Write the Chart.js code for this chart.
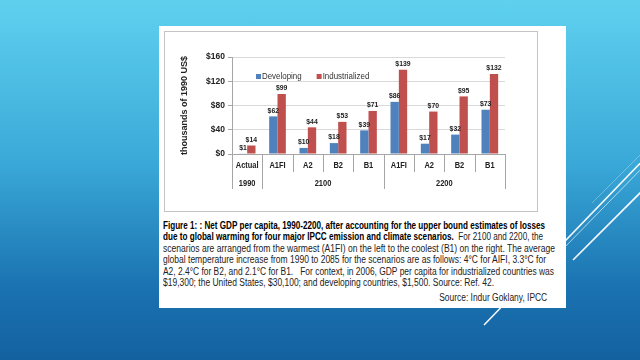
<!DOCTYPE html>
<html>
<head>
<meta charset="utf-8">
<script src="https://cdn.jsdelivr.net/npm/chart.js@4/dist/chart.umd.min.js"></script>
<style>
  html, body { margin:0; padding:0; width:640px; height:360px; overflow:hidden; }
  body {
    position:relative;
    background: linear-gradient(to bottom, #5fd1ef 0%, #3aa9d8 45%, #1a72b0 80%, #1461a0 100%);
    font-family: "Liberation Sans", sans-serif;
  }
  #deco { position:absolute; left:0; top:0; }
  #card { position:absolute; left:159px; top:26px; width:407px; height:282px; background:#fff; }
  #chartBox { position:absolute; left:164px; top:31px; width:372px; height:179px; border:1px solid #c4c4c4; }
  #chartBox canvas { display:block; }
  #caption {
    position:absolute; left:163px; top:220px;
    font-size:10px; line-height:11.4px; color:#222;
  }
  #caption div { white-space:nowrap; transform-origin:0 50%; width:max-content; }
  #caption b { color:#000; }
  #source { position:absolute; left:360px; top:292px; width:187px; text-align:right; font-size:10px; color:#222; }
  #source span { display:inline-block; white-space:nowrap; transform-origin:100% 50%; }
</style>
</head>
<body>
<svg id="deco" width="640" height="360">
  <line x1="652" y1="151" x2="484" y2="325" stroke="#fff" stroke-width="1.6" opacity="0.95"/>
  <line x1="650" y1="160" x2="560" y2="252" stroke="#fff" stroke-width="0.8" opacity="0.8"/>
  <line x1="648" y1="185" x2="573" y2="260" stroke="#fff" stroke-width="1.6" opacity="0.95"/>
  <line x1="650" y1="145" x2="592" y2="203" stroke="#fff" stroke-width="0.6" opacity="0.5"/>
</svg>
<div id="card"></div>
<div id="chartBox"><canvas id="gdp" width="372" height="179"></canvas></div>
<div id="caption">
  <div data-w="382"><b>Figure 1: : Net GDP per capita, 1990-2200, after accounting for the upper bound estimates of losses</b></div>
  <div data-w="380"><b>due to global warming for four major IPCC emission and climate scenarios.</b>&nbsp; For 2100 and 2200, the</div>
  <div data-w="392">scenarios are arranged from the warmest (A1FI) on the left to the coolest (B1) on the right. The average</div>
  <div data-w="383">global temperature increase from 1990 to 2085 for the scenarios are as follows: 4°C for AIFI, 3.3°C for</div>
  <div data-w="391">A2, 2.4°C for B2, and 2.1°C for B1.&nbsp;&nbsp; For context, in 2006, GDP per capita for industrialized countries was</div>
  <div data-w="331">$19,300; the United States, $30,100; and developing countries, $1,500. Source: Ref. 42.</div>
</div>
<div id="source"><span data-w="108">Source: Indur Goklany, IPCC</span></div>

<script>
// scenario labels, with the year group each one belongs to
const categories = ['Actual', 'A1FI', 'A2', 'B2', 'B1', 'A1FI', 'A2', 'B2', 'B1'];
const groups = ['1990', '2100', '2200'];
const groupSizes = [1, 4, 4];

// thousands of 1990 US$
const developing = [1, 62, 10, 18, 39, 86, 17, 32, 73];
const industrialized = [14, 99, 44, 53, 71, 139, 70, 95, 132];

const yMax = 160;
const yStep = 20;

(function() {
    'use strict';

    const FONT = "'Liberation Sans', sans-serif";
    const BLUE = '#4f81bd';
    const RED = '#c0504d';
    // the original used a condensed face (Calibri), squeeze canvas text to match
    const SQUEEZE = 0.88;

    function narrowText(ctx, text, x, y) {
        ctx.save();
        ctx.translate(x, y);
        ctx.scale(SQUEEZE, 1);
        ctx.fillText(text, 0, 0);
        ctx.restore();
    }

    // caption lines are fitted to the widths of the original layout
    document.querySelectorAll('[data-w]').forEach(el => {
        const w = el.getBoundingClientRect().width;
        el.style.transform = 'scaleX(' + (parseFloat(el.dataset.w) / w) + ')';
    });

    // value labels above each bar
    const barLabels = {
        id: 'barLabels',
        afterDatasetsDraw(chart) {
            const ctx = chart.ctx;
            ctx.save();
            ctx.font = 'bold 7.8px ' + FONT;
            ctx.fillStyle = '#222';
            ctx.textAlign = 'center';
            ctx.textBaseline = 'bottom';
            chart.data.datasets.forEach((ds, di) => {
                chart.getDatasetMeta(di).data.forEach((bar, i) => {
                    narrowText(ctx, '$' + ds.data[i], bar.x, bar.y - 2);
                });
            });
            ctx.restore();
        }
    };

    // excel style two level category axis: separators and year groups
    const groupAxis = {
        id: 'groupAxis',
        afterDraw(chart) {
            const ctx = chart.ctx;
            const x = chart.scales.x;
            const bottom = chart.chartArea.bottom;
            const edge = i => x.getPixelForValue(i - 0.5);
            const starts = [0];
            groupSizes.forEach(n => starts.push(starts[starts.length - 1] + n));

            ctx.save();
            ctx.strokeStyle = '#a6a6a6';
            ctx.lineWidth = 1;
            for (let i = 0; i <= categories.length; i++) {
                const px = Math.round(edge(i)) + 0.5;
                const len = starts.includes(i) ? 35 : 18;
                ctx.beginPath();
                ctx.moveTo(px, bottom);
                ctx.lineTo(px, bottom + len);
                ctx.stroke();
            }

            ctx.fillStyle = '#222';
            ctx.textBaseline = 'middle';
            ctx.textAlign = 'center';

            ctx.font = 'bold 8.5px ' + FONT;
            categories.forEach((c, i) => {
                narrowText(ctx, c, x.getPixelForValue(i), bottom + 12);
            });
            groups.forEach((g, gi) => {
                const mid = (edge(starts[gi]) + edge(starts[gi + 1])) / 2;
                narrowText(ctx, g, mid, bottom + 30);
            });

            // legend sits inside the plot, top left
            let lx = x.left + 24;
            const ly = chart.chartArea.top + 20;
            ctx.textAlign = 'left';
            ctx.font = '9px ' + FONT;
            chart.data.datasets.forEach(ds => {
                ctx.fillStyle = ds.backgroundColor;
                ctx.fillRect(lx, ly - 3, 5, 5);
                ctx.fillStyle = '#333';
                narrowText(ctx, ds.label, lx + 6, ly);
                lx += 6 + ctx.measureText(ds.label).width * SQUEEZE + 15;
            });
            ctx.restore();
        }
    };

    new Chart(document.getElementById('gdp'), {
        type: 'bar',
        data: {
            labels: categories,
            datasets: [
                { label: 'Developing', data: developing, backgroundColor: BLUE },
                { label: 'Industrialized', data: industrialized, backgroundColor: RED }
            ]
        },
        options: {
            responsive: false,
            animation: false,
            events: [],
            layout: { padding: { top: 25, right: 32, bottom: 17, left: 0 } },
            datasets: { bar: { categoryPercentage: 0.55, barPercentage: 1 } },
            scales: {
                x: {
                    grid: { display: false },
                    border: { display: true, color: '#a6a6a6' },
                    // labels are drawn by groupAxis so they can be condensed
                    ticks: { display: false, autoSkip: false },
                    afterFit(scale) { scale.height = 40; }
                },
                y: {
                    min: 0,
                    max: yMax,
                    grid: { color: '#d9d9d9', tickColor: '#a6a6a6', tickLength: 4 },
                    border: { display: true, color: '#a6a6a6' },
                    ticks: {
                        stepSize: yStep,
                        padding: 3,
                        color: '#222',
                        font: { family: FONT, size: 8.5, weight: 'bold' },
                        callback: v => '$' + v
                    },
                    title: {
                        display: true,
                        text: 'thousands of 1990 US$',
                        color: '#222',
                        padding: { top: 14, bottom: 0 },
                        font: { family: FONT, size: 9, weight: 'bold' }
                    },
                    afterFit(scale) { scale.width = 67; }
                }
            },
            plugins: {
                legend: { display: false },
                tooltip: { enabled: false }
            }
        },
        plugins: [barLabels, groupAxis]
    });
})();
</script>
</body>
</html>
